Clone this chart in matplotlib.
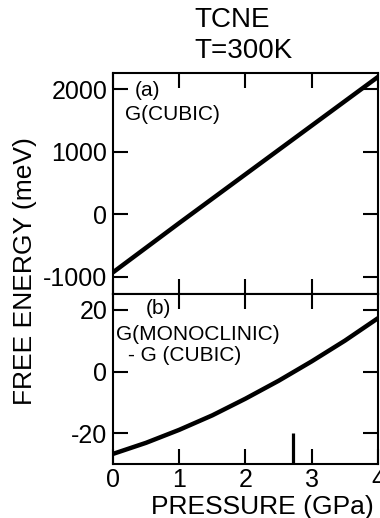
import matplotlib
matplotlib.use("Agg")
import matplotlib.pyplot as plt
import numpy as np

plt.rcParams['font.family'] = ['Liberation Sans', 'DejaVu Sans']
plt.rcParams['axes.unicode_minus'] = False

pressure = [0, 1, 2, 3, 4]
g_cubic = [-930, -140, 640, 1420, 2200]

pressure_b = [0, 0.5, 1, 1.5, 2, 2.5, 3, 3.5, 4]
g_diff = [-26.7, -23.1, -18.9, -14.2, -8.8, -3.0, 3.3, 10.0, 17.3]

transition_p = 2.72
transition_top = -20

xticks = [0, 1, 2, 3, 4]
yticks_a = [-1000, 0, 1000, 2000]
yticks_b = [-20, 0, 20]

fig = plt.figure(figsize=(3.8, 5.18), dpi=100)
L, R = 0.297, 0.995
ax_a = fig.add_axes([L, 0.433, R - L, 0.859 - 0.433])
ax_b = fig.add_axes([L, 0.104, R - L, 0.433 - 0.104])

fs = 18
for ax in (ax_a, ax_b):
    ax.set_xlim(0, 4)
    ax.set_xticks(xticks)
    ax.tick_params(direction='in', length=11, width=1.5, top=True, right=True,
                   labelsize=fs)
    ax.tick_params(axis='y', pad=4)
    ax.tick_params(axis='x', pad=3)
    for s in ax.spines.values():
        s.set_linewidth(1.5)

ax_a.plot(pressure, g_cubic, color='black', lw=3.2, solid_capstyle='butt')
ax_a.set_ylim(-1270, 2260)
ax_a.set_yticks(yticks_a)
ax_a.tick_params(labelbottom=False)
afs = 15
ax_a.text(0.083, 0.923, '(a)', transform=ax_a.transAxes, fontsize=afs, va='center')
ax_a.text(0.045, 0.814, 'G(CUBIC)', transform=ax_a.transAxes, fontsize=afs, va='center')

ax_b.plot(pressure_b, g_diff, color='black', lw=3.2, solid_capstyle='butt')
ax_b.vlines(transition_p, -30, transition_top, color='black', lw=2.3)
ax_b.set_ylim(-30, 25.2)
ax_b.set_yticks(yticks_b)
ax_b.text(0.125, 0.915, '(b)', transform=ax_b.transAxes, fontsize=afs, va='center')
ax_b.text(0.011, 0.762, 'G(MONOCLINIC)', transform=ax_b.transAxes, fontsize=afs, va='center')
ax_b.text(0.057, 0.639, '- G (CUBIC)', transform=ax_b.transAxes, fontsize=afs, va='center')

fig.text(0.69, 0.022, 'PRESSURE (GPa)', fontsize=19, ha='center', va='center')
fig.text(0.066, 0.476, 'FREE ENERGY (meV)', rotation=90, fontsize=19,
         ha='center', va='center')
fig.text(0.611, 0.961, 'TCNE', fontsize=20, ha='center', va='center')
fig.text(0.642, 0.902, 'T=300K', fontsize=20, ha='center', va='center')

fig.savefig('out.png', dpi=100)
